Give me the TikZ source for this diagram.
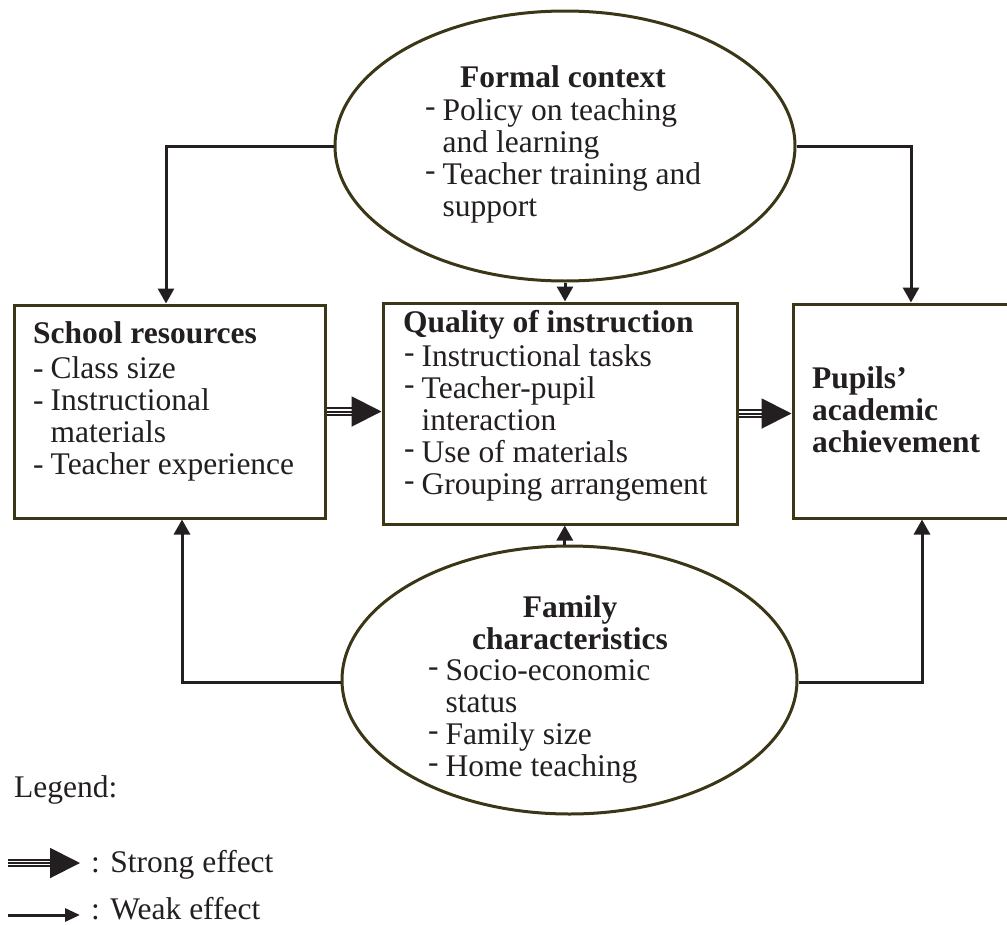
\documentclass[tikz,border=0pt]{standalone}
\usepackage{fontspec}
\setmainfont{Liberation Serif}
\usetikzlibrary{arrows.meta,shapes.geometric}
\definecolor{boxc}{RGB}{58,54,22}
\definecolor{arrc}{RGB}{35,31,32}
\newcommand{\rh}{\raisebox{4pt}{-}}
\begin{document}
\begin{tikzpicture}[x=1pt,y=-1pt,
  txt/.style={inner sep=0pt, anchor=base west, font=\fontsize{31.5}{32}\selectfont, text=arrc},
  frame/.style={draw=boxc, line width=3pt, fill=white, inner sep=0pt},
  rbox/.style={frame, rectangle},
  ell/.style={frame, ellipse},
  weak/.style={draw=arrc, line width=3pt, -{Triangle[length=15pt,width=16pt]}},
  strong/.style={draw=arrc, line width=8.5pt, shorten >=29pt,
    postaction={draw=white, line width=4.5pt, shorten >=29pt},
    postaction={draw=arrc, line width=2pt, shorten >=0pt, -{Triangle[length=30pt,width=30pt]}}}
]
\useasboundingbox (0,0) rectangle (1007,924);

% shapes
\node[ell, minimum width=460pt, minimum height=270pt] (topell) at (565,146) {};
\node[ell, minimum width=455pt, minimum height=268pt] (botell) at (569.5,680) {};
\node[rbox, minimum width=311pt, minimum height=213pt] (school) at (169.5,411.5) {};
\node[rbox, minimum width=354pt, minimum height=221pt] (quality) at (560,413.5) {};
\node[rbox, minimum width=219pt, minimum height=214pt] (pupils) at (902.5,411) {};

% texts
\node[txt, anchor=base] (t1) at (563,87) {\textbf{Formal context}};
\node[txt] (t1b) at (425,120) {\begin{tabular}[t]{@{}l@{\hspace{7pt}}l@{}}\rh & Policy on teaching\\ & and learning\\ \rh & Teacher training and\\ & support\end{tabular}};

\node[txt, anchor=base] (t2) at (570,617) {\begin{tabular}[t]{@{}c@{}}\textbf{Family}\\ \textbf{characteristics}\end{tabular}};
\node[txt] (t2b) at (428,680) {\begin{tabular}[t]{@{}l@{\hspace{7pt}}l@{}}\rh & Socio-economic\\ & status\\ \rh & Family size\\ \rh & Home teaching\end{tabular}};

\node[txt] (t3) at (33,343) {\textbf{School resources}};
\node[txt] (t3b) at (33,378) {\begin{tabular}[t]{@{}l@{\hspace{7pt}}l@{}}- & Class size\\ - & Instructional\\ & materials\\ - & Teacher experience\end{tabular}};

\node[txt] (t4) at (403,332) {\textbf{Quality of instruction}};
\node[txt] (t4b) at (404,366) {\begin{tabular}[t]{@{}l@{\hspace{7pt}}l@{}}\rh & Instructional tasks\\ \rh & Teacher-pupil\\ & interaction\\ \rh & Use of materials\\ \rh & Grouping arrangement\end{tabular}};

\node[txt] (t5) at (812,388) {\begin{tabular}[t]{@{}l@{}}\textbf{Pupils’}\\ \textbf{academic}\\ \textbf{achievement}\end{tabular}};

% connectors
\coordinate (c1) at (166,146);
\coordinate (c2) at (911,146);
\coordinate (c3) at (182,682);
\coordinate (c4) at (922,682);
\draw[weak] (topell.west) -- (c1) -- (c1 |- school.north);
\draw[weak] (topell.east) -- (c2) -- (c2 |- pupils.north);
\draw[weak] (botell.west |- c3) -- (c3) -- (c3 |- school.south);
\draw[weak] (botell.east |- c4) -- (c4) -- (c4 |- pupils.south);
\draw[weak] (topell.south) -- (topell.south |- quality.north);
\draw[weak] (botell.92) -- (botell.92 |- quality.south);
\draw[strong] (school.east) -- (school.east -| quality.west);
\draw[strong] (quality.east) -- (quality.east -| pupils.west);

% legend
\node[txt] (leg) at (14,797) {Legend:};
\coordinate (ls1) at (8,863);
\coordinate (ls2) at (80,863);
\draw[strong] (ls1) -- (ls2);
\node[txt] (lst) at (91,872) {: Strong effect};
\coordinate (lw1) at (8,915);
\coordinate (lw2) at (80,915);
\draw[draw=arrc, line width=3pt, -{Triangle[length=15pt,width=13pt]}] (lw1) -- (lw2);
\node[txt] (lwt) at (91,919) {: Weak effect};
\end{tikzpicture}
\end{document}
